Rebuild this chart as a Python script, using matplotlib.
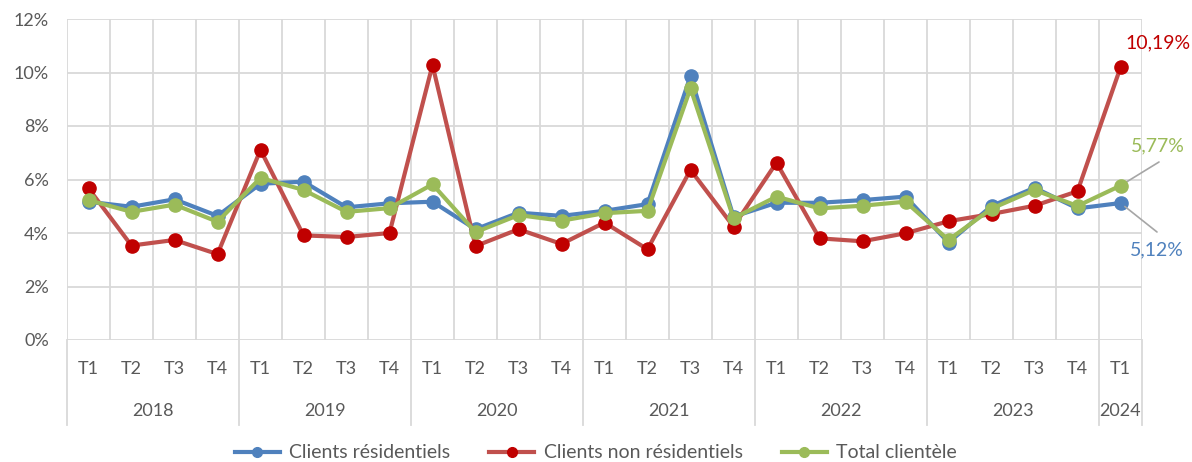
import matplotlib.pyplot as plt
import matplotlib.transforms as mtransforms
from matplotlib.ticker import FuncFormatter

plt.rcParams['font.family'] = ['Lato', 'DejaVu Sans']

# Quarterly values (%)
years = ['2018', '2019', '2020', '2021', '2022', '2023', '2024']
quarters = ['T1', 'T2', 'T3', 'T4'] * 6 + ['T1']
residentiels = [5.17, 4.98, 5.26, 4.64, 5.84, 5.92, 4.96, 5.11,
                5.17, 4.14, 4.76, 4.64, 4.83, 5.08, 9.87, 4.61,
                5.13, 5.13, 5.23, 5.36, 3.64, 5.01, 5.69, 4.92, 5.12]
non_residentiels = [5.67, 3.53, 3.74, 3.21, 7.11, 3.91, 3.85, 4.00,
                    10.28, 3.51, 4.14, 3.59, 4.39, 3.39, 6.36, 4.24,
                    6.63, 3.80, 3.69, 3.99, 4.44, 4.71, 5.02, 5.56, 10.19]
total = [5.23, 4.79, 5.06, 4.42, 6.06, 5.61, 4.79, 4.93,
         5.82, 4.03, 4.67, 4.46, 4.74, 4.83, 9.41, 4.55,
         5.36, 4.92, 5.02, 5.17, 3.74, 4.91, 5.61, 5.01, 5.77]

blue = '#4F81BD'
red_line = '#C0504D'
red_mark = '#C00000'
green = '#9BBB59'
grid_c = '#D9D9D9'
text_c = '#595959'

fig = plt.figure(figsize=(11.92, 4.62), dpi=100)
ax = fig.add_axes([67 / 1192, 122 / 462, 1075 / 1192, 321 / 462])

x = list(range(len(quarters)))
ax.plot(x, residentiels, color=blue, lw=3, marker='o', ms=9.5,
        mfc=blue, mec=blue, label='Clients résidentiels', zorder=3)
ax.plot(x, non_residentiels, color=red_line, lw=3, marker='o', ms=9.5,
        mfc=red_mark, mec=red_mark, label='Clients non résidentiels', zorder=4)
ax.plot(x, total, color=green, lw=3, marker='o', ms=9.5,
        mfc=green, mec=green, label='Total clientèle', zorder=5)

ax.set_xlim(-0.5, len(quarters) - 0.5)
ax.set_ylim(0, 12)
ax.set_yticks(range(0, 13, 2))
ax.yaxis.set_major_formatter(FuncFormatter(lambda v, p: f'{v:.0f}%'))
ax.set_xticks([])
for s in ax.spines.values():
    s.set_visible(False)
ax.tick_params(axis='y', length=0, labelsize=13, labelcolor=text_c, pad=13)

# grid
for yv in range(0, 13, 2):
    ax.axhline(yv, color=grid_c, lw=1.3, zorder=1)
for k in range(len(quarters) + 1):
    ax.axvline(k - 0.5, color=grid_c, lw=1.3, zorder=1)

# category axis (quarters + years)
trans = mtransforms.blended_transform_factory(ax.transData, ax.transAxes)
for i, q in enumerate(quarters):
    ax.text(i, -0.09, q, transform=trans, ha='center', va='center',
            fontsize=13, color=text_c)
starts = [0, 4, 8, 12, 16, 20, 24]
ends = [4, 8, 12, 16, 20, 24, 25]
for yr, a, b in zip(years, starts, ends):
    ax.text((a + b - 1) / 2, -0.222, yr, transform=trans, ha='center',
            va='center', fontsize=13, color=text_c)
for b in [0] + ends:
    ax.plot([b - 0.5, b - 0.5], [0, -0.265], transform=trans, color=grid_c,
            lw=1.3, clip_on=False)

# last value labels
last = len(quarters) - 1
ax.text(1158, 419, '10,19%', transform=None, ha='center', va='center',
        fontsize=14, color=red_mark)
ax.text(1158, 316, '5,77%', transform=None, ha='center', va='center',
        fontsize=14, color=green)
ax.text(1157, 212, '5,12%', transform=None, ha='center', va='center',
        fontsize=14, color=blue)
ax.annotate('', xy=(last, total[-1]), xytext=(1159, 300),
            textcoords='figure pixels',
            arrowprops=dict(arrowstyle='-', color='#A6A6A6', lw=1.2,
                            shrinkA=0, shrinkB=4))
ax.annotate('', xy=(last, residentiels[-1]), xytext=(1157, 230),
            textcoords='figure pixels',
            arrowprops=dict(arrowstyle='-', color='#A6A6A6', lw=1.2,
                            shrinkA=0, shrinkB=4))

leg = fig.legend(loc='center', bbox_to_anchor=(0.5, 1 - 453 / 462), ncol=3,
                 frameon=False, fontsize=14, labelcolor=text_c,
                 handlelength=2.3, columnspacing=2.0, handletextpad=0.5)
for h in leg.legend_handles:
    h.set_markersize(7)

fig.savefig('out.png', dpi=100)
